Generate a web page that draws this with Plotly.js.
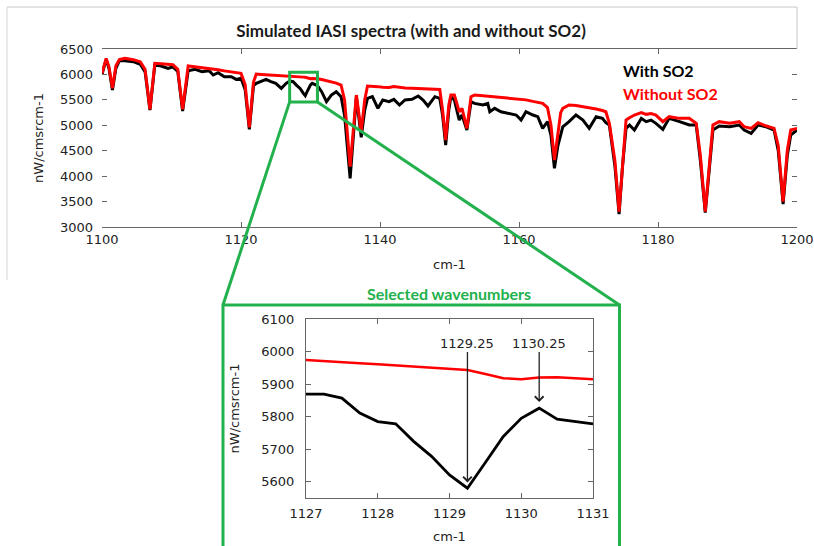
<!DOCTYPE html>
<html>
<head>
<meta charset="utf-8">
<script src="https://cdn.plot.ly/plotly-3.0.1.min.js"></script>
<style>html,body{margin:0;padding:0;background:#fff;}#chart{width:814px;height:546px;}</style>
</head>
<body>
<div id="chart"></div>
<script>
// ---- Main spectrum (cm-1) ----
const mainWn = [1100.0,1100.6,1101.0,1101.5,1102.0,1102.5,1103.3,1104.5,1105.5,1106.2,1106.9,1107.6,1108.5,1109.5,1110.2,1110.9,1111.6,1112.4,1113.4,1114.4,1115.4,1116.0,1116.7,1117.6,1118.6,1119.3,1120.0,1120.6,1121.2,1121.8,1122.2,1122.9,1123.6,1124.3,1125.0,1125.8,1126.5,1127.0,1127.5,1128.0,1128.5,1129.0,1129.25,1129.5,1130.0,1130.25,1130.75,1131.0,1131.6,1132.3,1133.0,1133.7,1134.4,1134.9,1135.7,1136.2,1136.6,1137.3,1137.8,1138.2,1138.9,1139.7,1140.4,1141.3,1142.0,1142.8,1143.6,1144.6,1145.5,1146.2,1146.9,1147.9,1148.6,1149.0,1149.45,1149.9,1150.2,1150.7,1151.4,1151.8,1152.5,1153.1,1153.6,1154.8,1155.5,1155.8,1156.5,1157.4,1158.4,1159.6,1160.3,1161.0,1162.0,1162.7,1163.4,1164.1,1164.6,1165.1,1165.6,1166.0,1166.3,1167.2,1168.2,1169.2,1170.1,1171.1,1172.0,1172.5,1173.0,1173.8,1174.4,1174.9,1175.4,1175.9,1176.6,1177.6,1178.3,1179.0,1179.7,1180.7,1181.6,1183.1,1184.5,1185.5,1186.1,1186.8,1187.4,1187.9,1188.8,1190.3,1191.7,1192.4,1193.4,1194.4,1195.5,1196.7,1197.3,1198.0,1198.6,1199.1,1200.0];
const mainWithoutSO2 = [6021,6316,6150,5726,6170,6290,6316,6290,6250,6100,5313,6218,6210,6200,6190,6100,5313,6165,6150,6130,6110,6100,6090,6070,6050,6035,6021,5800,4959,5850,6008,6000,5995,5990,5985,5980,5978,5975,5967,5961,5953,5947,5943,5931,5915,5920,5919,5915,5900,5880,5860,5830,5792,5500,4186,5000,5595,4874,5500,5772,5770,5760,5750,5745,5760,5740,5735,5730,5725,5720,5715,5710,5706,5300,4710,5400,5595,5595,5267,5333,4940,5562,5595,5580,5570,5568,5560,5550,5540,5525,5515,5500,5470,5450,5431,5350,5000,4317,4900,5250,5333,5398,5390,5370,5350,5320,5290,5267,5038,4300,3301,4300,5103,5150,5202,5248,5215,5230,5200,5071,5169,5136,5136,5038,4400,3301,4300,5005,5071,5038,5071,4972,4940,5052,4990,4939,4600,3497,4500,4907,4940];
const mainWithSO2 = [6000,6296,6120,5693,6120,6270,6270,6250,6200,6050,5300,6185,6165,6120,6150,6060,5280,6074,6100,6054,6074,5988,6034,5956,5956,5903,5923,5700,4920,5780,5825,5857,5903,5857,5825,5726,5825,5869,5857,5785,5724,5621,5580,5659,5795,5826,5785,5778,5661,5464,5595,5661,5562,5200,3956,4900,5562,4763,5300,5530,5562,5333,5497,5464,5510,5398,5497,5510,5575,5497,5379,5562,5530,5200,4612,5300,5562,5497,5103,5202,4907,5464,5431,5398,5431,5267,5333,5267,5235,5202,5103,5267,5202,5169,4940,5071,4800,4153,4600,4841,4970,5071,5202,5103,4940,5169,5136,5050,5005,4200,3255,4200,4940,5005,4907,5136,5071,5103,5038,4920,5136,5071,5005,5005,4300,3281,4250,4907,4985,4972,5005,4907,4840,5005,4972,4907,4500,3452,4400,4808,4907];

// ---- Inset: selected wavenumbers ----
const insetWn = [1127.0,1127.25,1127.5,1127.75,1128.0,1128.25,1128.5,1128.75,1129.0,1129.25,1129.5,1129.75,1130.0,1130.25,1130.5,1130.75,1131.0];
const insetWithoutSO2 = [5974,5970,5967,5964,5961,5957,5953,5950,5947,5943,5931,5918,5915,5920,5921,5919,5915];
const insetWithSO2 = [5869,5869,5857,5811,5785,5778,5724,5678,5621,5580,5659,5739,5795,5826,5792,5785,5778];
const selectedWn = [1129.25, 1130.25];
const selectedHead = [5598, 5845];

const mainXTicks = [1100,1120,1140,1160,1180,1200];
const mainYTicks = [3000,3500,4000,4500,5000,5500,6000,6500];
const insetXTicks = [1127,1128,1129,1130,1131];
const insetYTicks = [5600,5700,5800,5900,6000,6100];

const W = 814, H = 546;
const GREEN = '#22b14c';
const tickFont = {family: 'DejaVu Sans', size: 13, color: '#222'};

// geometry (pixels -> paper)
const fx = p => p / W;
const fy = p => 1 - p / H;
const mainXDom = [fx(102), fx(797)], mainYDom = [fy(227), fy(49)];
const insXDom = [fx(306), fx(593)], insYDom = [fy(498), fy(319)];
const mainXR = [1100, 1200], mainYR = [3000, 6500];

function dataToPaperX(v){ return mainXDom[0] + (v - mainXR[0])/(mainXR[1]-mainXR[0])*(mainXDom[1]-mainXDom[0]); }
function dataToPaperY(v){ return mainYDom[0] + (v - mainYR[0])/(mainYR[1]-mainYR[0])*(mainYDom[1]-mainYDom[0]); }

// zoom box in main chart
const boxX = [insetWn[0], insetWn[insetWn.length-1]];
const boxY = [5460, 6045];
const bx0 = dataToPaperX(boxX[0]), bx1 = dataToPaperX(boxX[1]);
const by0 = dataToPaperY(boxY[0]);
const inset = {x0: fx(223), x1: fx(619.5), y1: fy(305), y0: fy(560)};

const traces = [
  {x: mainWn, y: mainWithSO2, type: 'scatter', mode: 'lines', name: 'With SO2', line: {color: '#000', width: 3}, xaxis: 'x', yaxis: 'y'},
  {x: mainWn, y: mainWithoutSO2, type: 'scatter', mode: 'lines', name: 'Without SO2', line: {color: '#ff0000', width: 3}, xaxis: 'x', yaxis: 'y'},
  {x: insetWn, y: insetWithoutSO2, type: 'scatter', mode: 'lines', name: 'Without SO2', line: {color: '#ff0000', width: 2.5}, xaxis: 'x2', yaxis: 'y2'},
  {x: insetWn, y: insetWithSO2, type: 'scatter', mode: 'lines', name: 'With SO2', line: {color: '#000', width: 2.8}, xaxis: 'x2', yaxis: 'y2'}
];

const axCommon = {showgrid: false, zeroline: false, ticks: 'inside', ticklen: 5, tickcolor: '#666', tickwidth: 1, tickfont: tickFont, mirror: 'ticks', linecolor: '#666', linewidth: 1};

const layout = {
  width: W, height: H,
  margin: {l: 0, r: 0, t: 0, b: 0},
  paper_bgcolor: '#fff', plot_bgcolor: 'rgba(0,0,0,0)',
  showlegend: false,
  title: {text: 'Simulated IASI spectra (with and without SO2)', x: fx(411), xanchor: 'center', y: fy(31), yanchor: 'middle', font: {family: 'Lato', size: 17, weight: 'bold', color: '#1a1a1a'}},
  xaxis: Object.assign({}, axCommon, {domain: mainXDom, range: mainXR, tickvals: mainXTicks, showline: true, anchor: 'y',
    title: {text: 'cm-1', font: {family: 'DejaVu Sans', size: 13, color: '#222'}, standoff: 14}}),
  yaxis: Object.assign({}, axCommon, {domain: mainYDom, range: mainYR, tickvals: mainYTicks, showline: false, anchor: 'x', ticklabelstandoff: 8,
    title: {text: 'nW/cmsrcm-1', font: {family: 'DejaVu Sans', size: 13, color: '#222'}, standoff: 13}}),
  xaxis2: Object.assign({}, axCommon, {domain: insXDom, range: [1127, 1131], tickvals: insetXTicks, showline: true, anchor: 'y2', ticklabelstandoff: 3,
    title: {text: 'cm-1', font: {family: 'DejaVu Sans', size: 13, color: '#222'}, standoff: 12}}),
  yaxis2: Object.assign({}, axCommon, {domain: insYDom, range: [5550, 6100], tickvals: insetYTicks, showline: true, anchor: 'x2', ticklabelstandoff: 8,
    title: {text: 'nW/cmsrcm-1', font: {family: 'DejaVu Sans', size: 13, color: '#222'}, standoff: 18}}),
  shapes: [
    // outer light frame
    {type: 'line', xref: 'paper', yref: 'paper', x0: fx(7), x1: fx(797), y0: fy(7), y1: fy(7), line: {color: '#c8c8c8', width: 1}},
    {type: 'line', xref: 'paper', yref: 'paper', x0: fx(7), x1: fx(7), y0: fy(7), y1: fy(280), line: {color: '#d6d6d6', width: 1}},
    {type: 'line', xref: 'paper', yref: 'paper', x0: fx(797), x1: fx(797), y0: fy(7), y1: fy(49), line: {color: '#c8c8c8', width: 1}},
    // zoom box
    {type: 'rect', xref: 'x', yref: 'y', x0: boxX[0], x1: boxX[1], y0: boxY[0], y1: boxY[1], line: {color: GREEN, width: 3}},
    // connectors
    {type: 'line', xref: 'paper', yref: 'paper', x0: bx0, y0: by0, x1: inset.x0, y1: inset.y1, line: {color: GREEN, width: 3}},
    {type: 'line', xref: 'paper', yref: 'paper', x0: bx1, y0: by0, x1: inset.x1, y1: inset.y1, line: {color: GREEN, width: 3}},
    // inset frame
    {type: 'rect', xref: 'paper', yref: 'paper', x0: inset.x0, x1: inset.x1, y0: inset.y0, y1: inset.y1, line: {color: GREEN, width: 3}}
  ],
  annotations: [
    {xref: 'paper', yref: 'paper', x: fx(621), y: fy(70), xanchor: 'left', yanchor: 'middle', showarrow: false, text: '<b>With SO2</b>', font: {family: 'Lato', size: 16, color: '#000'}},
    {xref: 'paper', yref: 'paper', x: fx(621), y: fy(93), xanchor: 'left', yanchor: 'middle', showarrow: false, text: '<b>Without SO2</b>', font: {family: 'Lato', size: 16, color: '#ff0000'}},
    {xref: 'paper', yref: 'paper', x: fx(449), y: fy(293), xanchor: 'center', yanchor: 'middle', showarrow: false, text: '<b>Selected wavenumbers</b>', font: {family: 'Lato', size: 16, color: GREEN}},
    {xref: 'x2', yref: 'y2', axref: 'x2', ayref: 'y2', x: selectedWn[0], y: selectedHead[0], ax: selectedWn[0], ay: 6026, text: String(selectedWn[0]), showarrow: true, arrowhead: 4, arrowsize: 1.3, arrowwidth: 1.3, arrowcolor: '#222', font: {family: 'DejaVu Sans', size: 13, color: '#222'}},
    {xref: 'x2', yref: 'y2', axref: 'x2', ayref: 'y2', x: selectedWn[1], y: selectedHead[1], ax: selectedWn[1], ay: 6026, text: String(selectedWn[1]), showarrow: true, arrowhead: 4, arrowsize: 1.3, arrowwidth: 1.3, arrowcolor: '#222', font: {family: 'DejaVu Sans', size: 13, color: '#222'}}
  ]
};

Plotly.newPlot('chart', traces, layout, {displayModeBar: false, staticPlot: true});
</script>
</body>
</html>
